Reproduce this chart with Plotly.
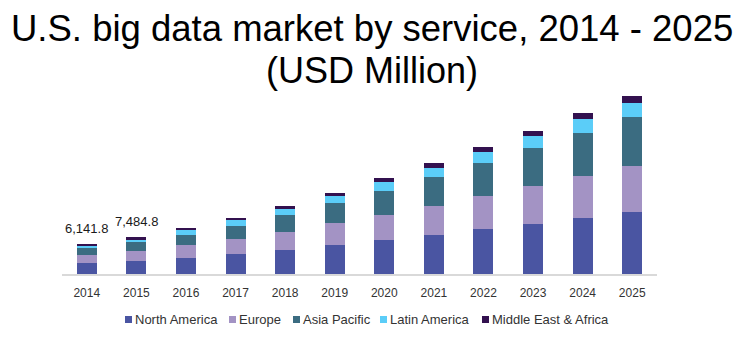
import plotly.graph_objects as go

years = ["2014", "2015", "2016", "2017", "2018", "2019", "2020", "2021", "2022", "2023", "2024", "2025"]
north_america = [2260, 2665, 3220, 4040, 4860, 5880, 6910, 7930, 9160, 10190, 11420, 12650]
europe = [1580, 1990, 2665, 3075, 3690, 4510, 5125, 5945, 6765, 7790, 8610, 9430]
asia_pacific = [1440, 1905, 2050, 2665, 3485, 4100, 4920, 5945, 6765, 7790, 8815, 10045]
latin_america = [610, 555, 1025, 1230, 1230, 1435, 1845, 1845, 2255, 2460, 2870, 2870]
mea = [252, 370, 410, 410, 615, 615, 820, 1025, 1025, 1025, 1230, 1435]
label_years = ["2014", "2015"]
label_texts = ["6,141.8", "7,484.8"]

series_names = ["North America", "Europe", "Asia Pacific", "Latin America", "Middle East & Africa"]
series_values = [north_america, europe, asia_pacific, latin_america, mea]
series_colors = ["#4a55a2", "#a393c4", "#3b6c81", "#5bcdf8", "#33114f"]

W, H = 744, 339
ML, MR, MT, MB = 62, 87, 90, 65
PW, PH = W - ML - MR, H - MT - MB

def px_x(px):
    return (px - ML) / PW

def px_y(py):
    return (H - MB - py) / PH

FONT = "Liberation Sans, Arial"

fig = go.Figure()
for name, vals, color in zip(series_names, series_values, series_colors):
    fig.add_trace(go.Bar(x=years, y=vals, name=name, showlegend=False,
                         marker=dict(color=color, line=dict(width=0))))

totals = [sum(v[i] for v in series_values) for i in range(len(years))]
for yr, txt in zip(label_years, label_texts):
    i = years.index(yr)
    fig.add_annotation(x=i, y=totals[i], text=txt, showarrow=False, yanchor="bottom", yshift=6,
                       font=dict(size=13, color="#1a1a1a", family=FONT))

# title (two lines)
fig.add_annotation(xref="paper", yref="paper", x=px_x(W / 2), y=px_y(29), text="U.S. big data market by service, 2014 - 2025",
                   showarrow=False, xanchor="center", yanchor="middle",
                   font=dict(size=36.5, color="#000000", family=FONT))
fig.add_annotation(xref="paper", yref="paper", x=px_x(W / 2), y=px_y(70), text="(USD Million)",
                   showarrow=False, xanchor="center", yanchor="middle",
                   font=dict(size=36, color="#000000", family=FONT))

# legend
legend_square_px = [125, 229, 293, 380, 482]
for name, color, sx in zip(series_names, series_colors, legend_square_px):
    fig.add_shape(type="rect", xref="paper", yref="paper",
                  x0=px_x(sx), x1=px_x(sx + 7), y0=px_y(323), y1=px_y(316),
                  fillcolor=color, line=dict(width=0))
    fig.add_annotation(xref="paper", yref="paper", x=px_x(sx + 8), y=px_y(319.5), text=name,
                       showarrow=False, xanchor="left", yanchor="middle",
                       font=dict(size=13, color="#333333", family=FONT))

fig.update_layout(
    width=W, height=H,
    margin=dict(l=ML, r=MR, t=MT, b=MB),
    barmode="stack", bargap=0.597,
    plot_bgcolor="white", paper_bgcolor="white",
    font=dict(family=FONT, color="#333333", size=12),
    showlegend=False,
)
fig.update_xaxes(type="category", showline=True, linecolor="#d9d9d9", linewidth=2, ticks="", showgrid=False,
                 ticklabelstandoff=7, tickfont=dict(size=12, color="#333333"))
fig.update_yaxes(visible=False, range=[0, PH * 205], showgrid=False)

fig.write_html("out.html")
